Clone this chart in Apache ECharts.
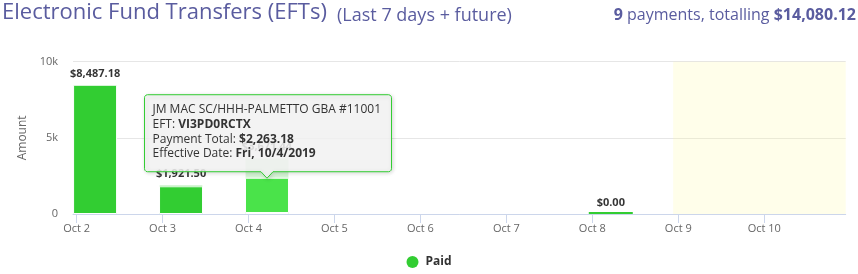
<!DOCTYPE html>
<html><head><meta charset="utf-8">
<script src="https://cdn.jsdelivr.net/npm/echarts@6/dist/echarts.min.js"></script>
<style>html,body{margin:0;padding:0;background:#fff}#c{width:858px;height:274px}</style>
</head><body><div id="c"></div>
<script>
// ---- data ----
const dayNums   = [2, 3, 4, 5, 6, 7, 8, 9, 10];          // October 2019
const dayLabels = ['Oct 2','Oct 3','Oct 4','Oct 5','Oct 6','Oct 7','Oct 8','Oct 9','Oct 10'];
const payDays    = [2, 3, 3, 4, 4, 4, 8, 8, 8];
const payAmounts = [8487.18, 1821.50, 100.00, 118.26, 2263.18, 1290.00, 0, 0, 0];
const postTime   = 0.215;          // posting time of day (fraction of a day)
const axisStartDay  = 1.958;
const axisEndDay    = 10.948;
const futureStartDay = 8.94;
const yTicks     = [0, 5000, 10000];
const hoverIndex = 4;
const tipPayer = 'JM MAC SC/HHH-PALMETTO GBA #11001';
const tipEft   = 'VI3PD0RCTX';
const tipDate  = 'Fri, 10/4/2019';

const DAY = 86400000;
const T0 = Date.UTC(2019, 9, 0);
const ts = d => Math.round(T0 + d * DAY);
const FONT = '"Open Sans", sans-serif';
const GREEN = '#32cd32', HOVER = '#4ae34a', TITLE = '#5a5c9f';
const fmt = v => '$' + v.toLocaleString('en-US', {minimumFractionDigits: 2, maximumFractionDigits: 2});

// stack levels: each level is drawn as the running total up to that payment,
// upper levels behind lower ones, so each visible segment equals one payment.
const levels = [];
const seen = {};
payDays.forEach((d, i) => {
  const lv = seen[d] || 0; seen[d] = lv + 1;
  if (!levels[lv]) levels[lv] = dayNums.map(() => null);
  levels[lv][dayNums.indexOf(d)] = i;
});
const runningTotal = i => payAmounts.filter((a, j) => payDays[j] === payDays[i] && j <= i).reduce((s, a) => s + a, 0);
const barSeries = levels.map((lv, L) => ({
  type: 'bar', name: 'Paid', barWidth: 44, barGap: '-100%', barMinHeight: L === 0 ? 2 : 0,
  silent: true, animation: false,
  itemStyle: {color: GREEN, borderColor: '#fff', borderWidth: 1},
  data: dayNums.map((d, k) => {
    const pi = lv[k];
    if (pi == null) return [ts(d + postTime), '-'];
    const v = payAmounts[pi];
    const item = {value: [ts(d + postTime), runningTotal(pi)]};
    if (pi === hoverIndex) item.itemStyle = {color: HOVER};
    else if (payDays[pi] === payDays[hoverIndex] && pi > hoverIndex) item.itemStyle = {opacity: 0.2};
    if (v === 0) item.itemStyle = L === 0 ? {borderWidth: 0} : {borderWidth: 0, opacity: 0};
    return item;
  })
})).reverse();
barSeries[0].markArea = {
  silent: true,
  itemStyle: {color: 'rgba(255,250,160,0.22)'},
  data: [[{xAxis: ts(futureStartDay)}, {xAxis: ts(axisEndDay)}]]
};
const totalDays = dayNums.filter(d => payDays.includes(d));
const totals = totalDays.map(d => payAmounts.filter((a, i) => payDays[i] === d).reduce((s, a) => s + a, 0));
const grand = payAmounts.reduce((s, a) => s + a, 0);
const tickStamps = dayNums.map(ts);

const chart = echarts.init(document.getElementById('c'));
chart.setOption({
  animation: false,
  textStyle: {fontFamily: FONT},
  title: [
    {text: 'Electronic Fund Transfers (EFTs)', left: 2, top: 2, padding: 0,
     textStyle: {fontFamily: FONT, fontSize: 22, fontWeight: 'normal', color: TITLE}},
    {text: '(Last 7 days + future)', left: 337, top: 7, padding: 0,
     textStyle: {fontFamily: FONT, fontSize: 18, fontWeight: 'normal', color: TITLE}},
    {text: '{b|' + payAmounts.length + '} payments, totalling {b|' + fmt(grand) + '}', right: 2, top: 7, padding: 0,
     textStyle: {fontFamily: FONT, fontSize: 16, fontWeight: 'normal', color: TITLE,
       rich: {b: {fontFamily: FONT, fontSize: 16, fontWeight: 'bold', color: TITLE}}}}
  ],
  legend: {data: ['Paid'], left: 'center', top: 256, padding: 0, icon: 'circle', itemWidth: 16, itemHeight: 12,
    selectedMode: false, itemStyle: {color: GREEN, opacity: 1, borderWidth: 0},
    textStyle: {fontFamily: FONT, fontSize: 12, fontWeight: 'bold', color: '#333'}},
  grid: {left: 73, right: 12.3, top: 61.7, bottom: 60, containLabel: false},
  xAxis: {type: 'value', min: ts(axisStartDay), max: ts(axisEndDay),
    splitLine: {show: false},
    axisLine: {lineStyle: {color: '#ccd6eb'}},
    axisTick: {show: true, length: 9, customValues: tickStamps, lineStyle: {color: '#ccd6eb'}},
    axisLabel: {customValues: tickStamps, formatter: v => dayLabels[tickStamps.indexOf(v)],
      color: '#666', fontSize: 11, fontFamily: FONT, margin: 9}},
  yAxis: {type: 'value', min: yTicks[0], max: yTicks[yTicks.length - 1], interval: yTicks[1] - yTicks[0],
    name: 'Amount', nameLocation: 'middle', nameGap: 42,
    nameTextStyle: {color: '#666', fontSize: 12, fontFamily: FONT},
    axisLine: {show: false}, axisTick: {show: false},
    splitLine: {lineStyle: {color: '#e6e6e6'}},
    axisLabel: {formatter: v => v === 0 ? '0' : (v / 1000) + 'k', color: '#666', fontSize: 11, fontFamily: FONT, margin: 15}},
  series: barSeries.concat([{
    type: 'scatter', silent: true, symbolSize: 1, itemStyle: {color: 'rgba(0,0,0,0)'}, z: 3,
    data: totalDays.map((d, i) => [ts(d + postTime), totals[i]]),
    label: {show: true, position: 'top', distance: 5, formatter: p => fmt(p.value[1]),
      fontFamily: FONT, fontSize: 11, fontWeight: 'bold', color: '#000',
      textBorderColor: '#fff', textBorderWidth: 2}
  }])
});

// static tooltip, anchored to the hovered payment
const hx = ts(payDays[hoverIndex] + postTime);
const hy = runningTotal(hoverIndex);
const [ax, ay] = chart.convertToPixel({xAxisIndex: 0, yAxisIndex: 0}, [hx, hy]);
const W = 247, H = 77, r = 3;
const l = ax - 122.5, R = l + W, B = ay - 6, t = B - H, tipY = ay + 0.5;
function corner(cx, cy, a0) {
  const pts = [];
  for (let k = 0; k <= 3; k++) {
    const a = a0 + k * Math.PI / 6;
    pts.push([cx + r * Math.cos(a), cy + r * Math.sin(a)]);
  }
  return pts;
}
const pts = [].concat(
  corner(R - r, t + r, -Math.PI / 2),
  corner(R - r, B - r, 0),
  [[ax + 6, B], [ax, tipY], [ax - 6, B]],
  corner(l + r, B - r, Math.PI / 2),
  corner(l + r, t + r, Math.PI)
);
const tokenStyle = {fontFamily: FONT, fontSize: 12, fill: '#333', lineHeight: 14.6};
chart.setOption({
  graphic: [
    {type: 'polygon', z: 100, silent: true, shape: {points: pts},
     style: {fill: 'rgba(247,247,247,0.85)', stroke: GREEN, lineWidth: 1,
       shadowBlur: 4, shadowColor: 'rgba(0,0,0,0.18)', shadowOffsetX: 1, shadowOffsetY: 1}},
    {type: 'text', z: 101, silent: true, x: l + 8, y: t + 8,
     style: Object.assign({}, tokenStyle, {
       text: tipPayer + '\nEFT: {b|' + tipEft + '}\nPayment Total: {b|' + fmt(payAmounts[hoverIndex]) + '}\nEffective Date: {b|' + tipDate + '}',
       rich: {b: Object.assign({}, tokenStyle, {fontWeight: 'bold'})}
     })}
  ]
});
</script></body></html>
